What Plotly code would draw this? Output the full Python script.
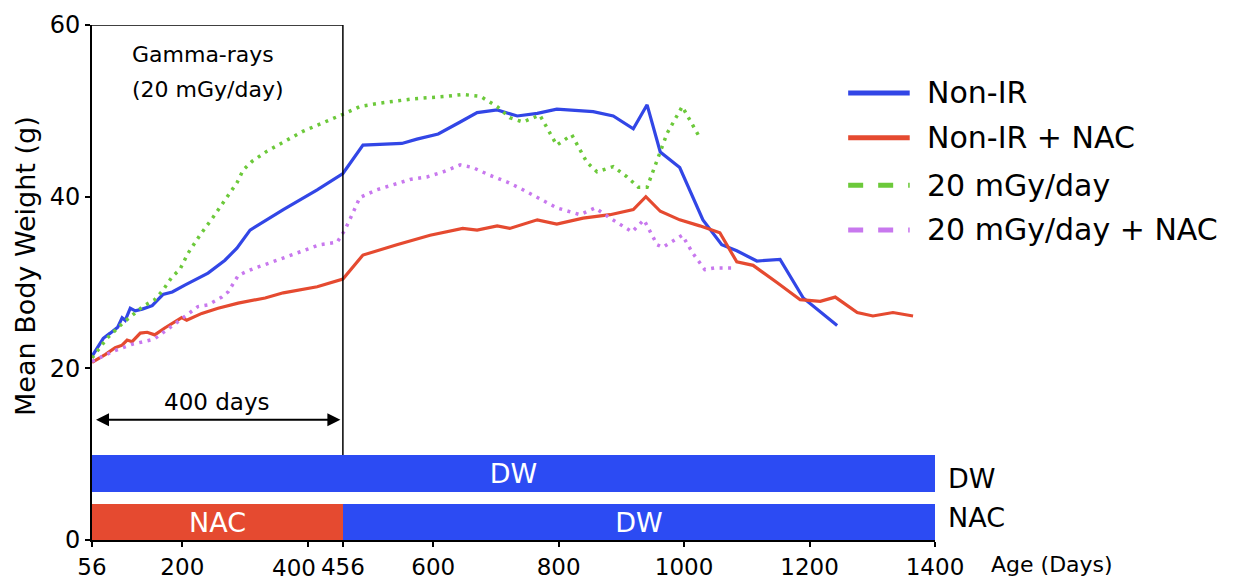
import plotly.graph_objects as go

# ---------------- data ----------------
nonir_days = [56, 74, 85, 97, 104, 109, 117, 125, 136, 152, 169, 184, 204, 225, 241, 268, 287, 308,
              361, 415, 456, 488, 550, 574, 608, 643, 670, 702, 734, 766, 797, 855, 887, 919, 941,
              962, 993, 1030, 1060, 1084, 1116, 1153, 1190, 1244]
nonir_wt = [21.4, 23.5, 24.1, 24.8, 25.9, 25.6, 27.0, 26.7, 26.9, 27.3, 28.6, 28.9, 29.7, 30.5, 31.1,
            32.6, 34.0, 36.1, 38.5, 40.8, 42.7, 46.0, 46.2, 46.7, 47.3, 48.7, 49.8, 50.1, 49.4, 49.7,
            50.2, 49.9, 49.4, 47.9, 50.7, 45.2, 43.4, 37.3, 34.4, 33.7, 32.5, 32.7, 28.2, 25.0]

nac_days = [56, 77, 93, 104, 112, 120, 133, 144, 156, 172, 199, 207, 231, 257, 289, 332, 361, 415,
            456, 488, 542, 595, 647, 670, 702, 722, 766, 797, 839, 882, 919, 939, 962, 993, 1025,
            1057, 1084, 1110, 1148, 1185, 1217, 1241, 1276, 1301, 1333, 1365]
nac_wt = [20.7, 21.6, 22.4, 22.7, 23.3, 23.1, 24.1, 24.2, 23.9, 24.7, 25.9, 25.6, 26.4, 27.0, 27.6,
          28.2, 28.8, 29.5, 30.4, 33.2, 34.4, 35.5, 36.3, 36.1, 36.6, 36.3, 37.3, 36.8, 37.5, 37.9,
          38.5, 40.0, 38.3, 37.3, 36.6, 35.8, 32.4, 32.0, 30.0, 28.0, 27.8, 28.3, 26.5, 26.1, 26.5, 26.1]

ir_days = [56, 80, 104, 137, 156, 169, 184, 196, 209, 220, 228, 249, 271, 287, 297, 311, 335, 361,
           392, 456, 483, 515, 568, 622, 647, 675, 702, 722, 743, 770, 797, 821, 845, 861, 887, 909,
           927, 941, 973, 997, 1024]
ir_wt = [21.2, 23.5, 25.2, 27.2, 28.0, 29.1, 30.7, 31.5, 33.4, 34.7, 35.5, 37.6, 40.0, 41.6, 43.1,
         44.1, 45.3, 46.3, 47.6, 49.6, 50.5, 50.9, 51.4, 51.7, 51.9, 51.7, 50.5, 49.2, 48.7, 49.5,
         46.0, 47.2, 44.0, 42.9, 43.5, 42.3, 41.1, 41.1, 47.4, 50.5, 47.0]

irnac_days = [56, 90, 120, 155, 185, 215, 225, 241, 263, 273, 281, 289, 300, 316, 340, 367, 392, 419,
              447, 459, 472, 483, 510, 536, 563, 590, 616, 643, 663, 690, 718, 738, 766, 797, 834,
              858, 882, 917, 936, 957, 966, 997, 1014, 1033, 1049, 1078]
irnac_wt = [20.8, 22.0, 22.8, 23.4, 25.0, 26.6, 27.2, 27.4, 28.3, 28.9, 29.9, 30.8, 31.2, 31.7, 32.3,
            33.0, 33.6, 34.4, 34.7, 36.1, 38.1, 39.9, 40.8, 41.4, 42.0, 42.3, 42.9, 43.7, 43.4, 42.5,
            41.7, 41.0, 39.9, 38.7, 37.9, 38.7, 37.5, 35.9, 37.3, 34.4, 34.1, 35.5, 33.4, 31.5, 31.7, 31.7]

series_names = ["Non-IR", "Non-IR + NAC", "20 mGy/day", "20 mGy/day + NAC"]

# treatment bars: (start, end, row center, label)
bar_start = [56, 56, 456]
bar_end = [1400, 456, 1400]
bar_row = [7.75, 2.05, 2.05]
bar_label = ["DW", "NAC", "DW"]
row_labels = ["DW", "NAC"]

x_tickvals = [56, 200, 400, 456, 600, 800, 1000, 1200, 1400]
x_ticktext = ["56", "200", "", "456", "600", "800", "1000", "1200", "1400"]
shifted_tick = 400          # its label sits left of its tick (crowded by 456)
y_tickvals = [0, 20, 40, 60]

# ---------------- style ----------------
BLUE = "#3246E6"
BAR_BLUE = "#2C4BF3"
RED = "#E54A30"
GREEN = "#6CC93A"
PURPLE = "#C878EE"
FONT = "DejaVu Sans"
DOTS = "3px,5.5px"

fig = go.Figure()

bar_colors = [BAR_BLUE, RED, BAR_BLUE]
fig.add_trace(go.Bar(
    y=bar_row, x=[e - s for s, e in zip(bar_start, bar_end)], base=bar_start,
    orientation="h", width=4.3, marker=dict(color=bar_colors, line=dict(width=0)),
    text=bar_label, textposition="inside", insidetextanchor="middle", constraintext="none",
    textfont=dict(color="white", size=27, family=FONT), showlegend=False, hoverinfo="skip"))

fig.add_trace(go.Scatter(x=nonir_days, y=nonir_wt, mode="lines", name=series_names[0],
                         line=dict(color=BLUE, width=3.2)))
fig.add_trace(go.Scatter(x=nac_days, y=nac_wt, mode="lines", name=series_names[1],
                         line=dict(color=RED, width=3.2)))
fig.add_trace(go.Scatter(x=ir_days, y=ir_wt, mode="lines", name=series_names[2],
                         line=dict(color=GREEN, width=3.5, dash=DOTS)))
fig.add_trace(go.Scatter(x=irnac_days, y=irnac_wt, mode="lines", name=series_names[3],
                         line=dict(color=PURPLE, width=3.5, dash=DOTS)))
for tr in fig.data:
    tr.showlegend = False

# irradiation box
fig.add_shape(type="line", x0=56, x1=456, y0=60, y1=60, xref="x", yref="y",
              line=dict(color="black", width=1.5))
fig.add_shape(type="line", x0=456, x1=456, y0=60, y1=9.9, xref="x", yref="y",
              line=dict(color="black", width=1.5))

# 400 days arrow
fig.add_annotation(x=452, y=14, ax=60, ay=14, xref="x", yref="y", axref="x", ayref="y",
                   text="", showarrow=True, arrowhead=2, arrowside="end+start",
                   arrowsize=1.3, arrowwidth=2, arrowcolor="black")
fig.add_annotation(x=256, y=16.1, xref="x", yref="y", text="400 days", showarrow=False,
                   yanchor="middle", font=dict(size=23, family=FONT, color="black"))
fig.add_annotation(x=117, y=56.6, xref="x", yref="y", text="Gamma-rays", showarrow=False,
                   xanchor="left", yanchor="middle", font=dict(size=22, family=FONT, color="black"))
fig.add_annotation(x=117, y=52.5, xref="x", yref="y", text="(20 mGy/day)", showarrow=False,
                   xanchor="left", yanchor="middle", font=dict(size=22, family=FONT, color="black"))

# crowded tick label, placed just left of its tick
fig.add_annotation(x=shifted_tick, xref="x", y=0, yref="paper", yanchor="top", yshift=-13,
                   xanchor="right", xshift=10, text=str(shifted_tick), showarrow=False,
                   font=dict(size=23, family=FONT, color="black"))

# y-axis title (placed as in the reference, slightly above the axis middle)
fig.add_annotation(xref="paper", yref="paper", x=-0.0795, y=0.532, text="Mean Body Weight (g)",
                   textangle=-90, showarrow=False, xanchor="center", yanchor="middle",
                   font=dict(size=27, family=FONT, color="black"))

# custom legend (lines solid / dashed like the original)
leg_y = [0.868, 0.781, 0.689, 0.602]
leg_col = [BLUE, RED, GREEN, PURPLE]
leg_dash = ["solid", "solid", "dash", "dash"]
for name, yy, c, d in zip(series_names, leg_y, leg_col, leg_dash):
    fig.add_shape(type="line", xref="paper", yref="paper", x0=0.897, x1=0.970, y0=yy, y1=yy,
                  line=dict(color=c, width=5, dash=d))
    fig.add_annotation(xref="paper", yref="paper", x=0.988, y=yy, text=name, showarrow=False,
                       xanchor="left", yanchor="middle",
                       font=dict(size=30, family=FONT, color="black"))

# bar row labels
for lab, yy in zip(row_labels, [0.120, 0.043]):
    fig.add_annotation(xref="paper", yref="paper", x=1.013, y=yy, text=lab, showarrow=False,
                       xanchor="left", yanchor="middle",
                       font=dict(size=27, family=FONT, color="black"))
fig.add_annotation(xref="paper", yref="paper", x=1.064, y=-0.048, text="Age (Days)",
                   showarrow=False, xanchor="left", yanchor="middle",
                   font=dict(size=22, family=FONT, color="black"))

fig.update_xaxes(range=[56, 1400], tickvals=x_tickvals, ticktext=x_ticktext, tickangle=0,
                 automargin=False,
                 showline=True, linecolor="black", linewidth=2, ticks="outside", ticklen=5,
                 tickwidth=1.5, tickcolor="black", showgrid=False, zeroline=False,
                 tickfont=dict(size=23, family=FONT, color="black"))
fig.update_yaxes(range=[0, 60], tickvals=y_tickvals, showline=True, linecolor="black",
                 automargin=False,
                 linewidth=2, ticks="outside", ticklen=5, tickwidth=1.5, tickcolor="black",
                 showgrid=False, zeroline=False, tickfont=dict(size=24, family=FONT, color="black"))

# page body has an 8px margin: shrink the figure so the plot area lands where the reference's is
fig.update_layout(width=1232, height=572, margin=dict(l=84, r=305, t=17, b=40),
                  plot_bgcolor="white", paper_bgcolor="white", bargap=0, showlegend=False,
                  font=dict(family=FONT))

fig.write_html("out.html")
